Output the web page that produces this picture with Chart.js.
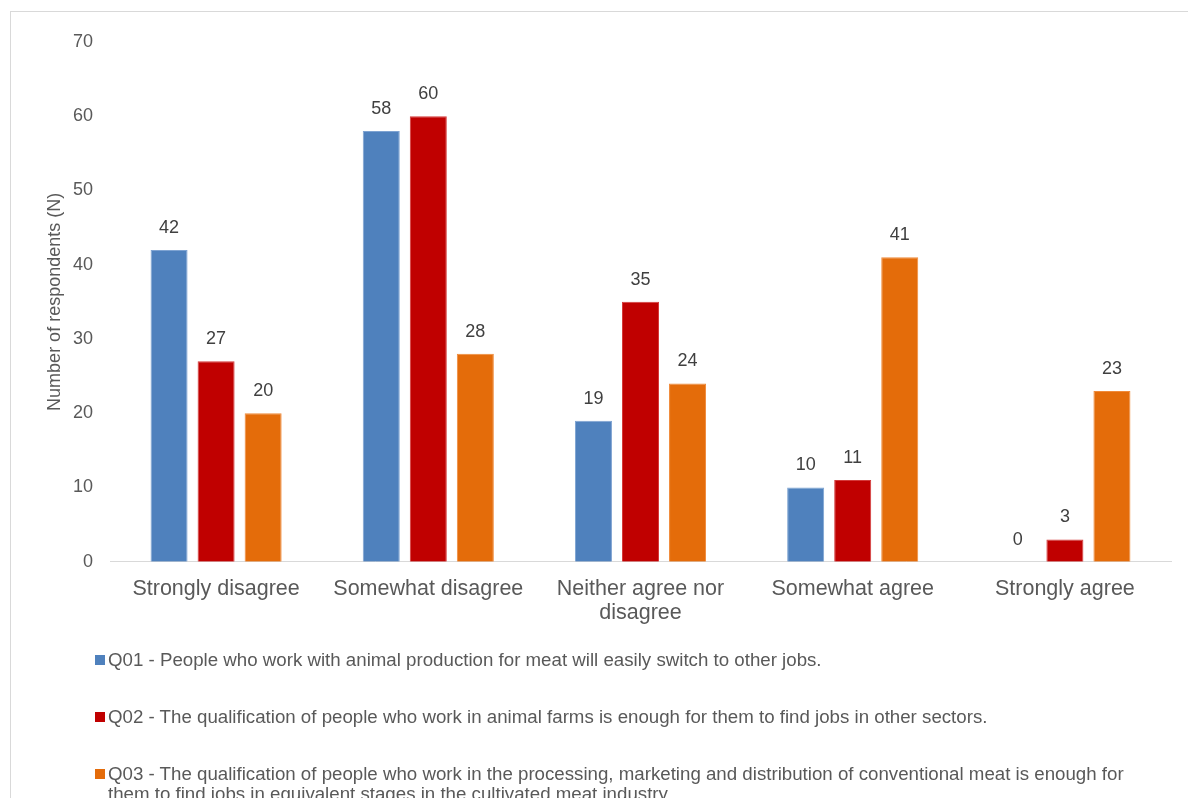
<!DOCTYPE html>
<html>
<head>
<meta charset="utf-8">
<script src="https://cdn.jsdelivr.net/npm/chart.js@4.4.1/dist/chart.umd.min.js"></script>
<style>
  body {
    margin: 0;
    background: #ffffff;
    overflow: hidden;
    font-family: "Liberation Sans", Arial, sans-serif;
  }
  #frame {
    position: absolute;
    left: 10px;
    top: 11px;
    width: 1300px;
    height: 900px;
    border: 1px solid #d9d9d9;
  }
  #chartBox {
    position: absolute;
    left: 0;
    top: 0;
    width: 1177px;
    height: 649px;
  }
  #legend {
    position: absolute;
    left: 84px;
    top: 638px;
    margin: 0;
    padding: 0;
    list-style: none;
  }
  #legend li {
    display: flex;
    align-items: flex-start;
    margin-bottom: 37px;
    font-size: 18.7px;
    line-height: 20px;
    color: #595959;
    white-space: nowrap;
  }
  .legend-box {
    display: inline-block;
    width: 10px;
    height: 10px;
    margin-top: 5px;
    flex: none;
  }
  .legend-text {
    margin-left: 3px;
  }
</style>
</head>
<body>
<div id="frame">
  <div id="chartBox"><canvas id="answers_bar"></canvas></div>
  <ul id="legend"></ul>
</div>
<script>
const categories = [
  "Strongly disagree",
  "Somewhat disagree",
  ["Neither agree nor", "disagree"],
  "Somewhat agree",
  "Strongly agree",
];

const q01Values = [42, 58, 19, 10, 0];
const q02Values = [27, 60, 35, 11, 3];
const q03Values = [20, 28, 24, 41, 23];

const q01Label = ["Q01 - People who work with animal production for meat will easily switch to other jobs."];
const q02Label = ["Q02 - The qualification of people who work in animal farms is enough for them to find jobs in other sectors."];
const q03Label = [
  "Q03 - The qualification of people who work in the processing, marketing and distribution of conventional meat is enough for",
  "them to find jobs in equivalent stages in the cultivated meat industry.",
];

const yMin = 0;
const yMax = 70;
const yStep = 10;

const FONT = "'Liberation Sans', Arial, sans-serif";

// numbers printed above each bar
const barValueLabels = {
  id: "barValueLabels",
  afterDatasetsDraw(chart) {
    const { ctx } = chart;
    ctx.save();
    ctx.font = "18px " + FONT;
    ctx.fillStyle = "#404040";
    ctx.textAlign = "center";
    ctx.textBaseline = "middle";
    chart.data.datasets.forEach((dataset, i) => {
      chart.getDatasetMeta(i).data.forEach((bar, j) => {
        ctx.fillText(dataset.data[j], bar.x, bar.y - 22);
      });
    });
    ctx.restore();
  },
};

// legend as a plain list under the canvas so the long texts can wrap
const htmlLegend = {
  id: "htmlLegend",
  afterUpdate(chart) {
    const list = document.getElementById("legend");
    list.innerHTML = "";
    chart.data.datasets.forEach((dataset) => {
      const li = document.createElement("li");
      const box = document.createElement("span");
      box.className = "legend-box";
      box.style.background = dataset.backgroundColor;
      const text = document.createElement("span");
      text.className = "legend-text";
      dataset.legendLines.forEach((line, k) => {
        if (k > 0) text.appendChild(document.createElement("br"));
        text.appendChild(document.createTextNode(line));
      });
      li.appendChild(box);
      li.appendChild(text);
      list.appendChild(li);
    });
  },
};

const makeDataset = (lines, values, color, edge) => ({
  label: lines.join(" "),
  legendLines: lines,
  data: values,
  backgroundColor: color,
  borderColor: edge,
  borderWidth: 1,
  categoryPercentage: 0.665,
  barPercentage: 0.787,
});

new Chart(document.getElementById("answers_bar"), {
  type: "bar",
  data: {
    labels: categories,
    datasets: [
      makeDataset(q01Label, q01Values, "#4f81bd", "#7ea3d2"),
      makeDataset(q02Label, q02Values, "#c00000", "#d43a3a"),
      makeDataset(q03Label, q03Values, "#e46c0a", "#f08a3a"),
    ],
  },
  plugins: [barValueLabels, htmlLegend],
  options: {
    responsive: true,
    maintainAspectRatio: false,
    animation: false,
    layout: {
      padding: { left: 30, right: 17, top: 30, bottom: 20 },
    },
    scales: {
      y: {
        min: yMin,
        max: yMax,
        afterFit: (scale) => {
          scale.width = 69;
        },
        ticks: {
          stepSize: yStep,
          padding: 17,
          color: "#595959",
          font: { family: FONT, size: 18 },
        },
        grid: {
          display: false,
          drawTicks: false,
        },
        border: { display: false },
        title: {
          display: true,
          text: "Number of respondents (N)",
          color: "#595959",
          font: { family: FONT, size: 18 },
          padding: 3,
        },
      },
      x: {
        ticks: {
          padding: 16,
          maxRotation: 0,
          autoSkip: false,
          color: "#595959",
          font: { family: FONT, size: 21.5, lineHeight: 1.1 },
        },
        grid: {
          display: false,
          drawTicks: false,
        },
        border: {
          display: true,
          color: "#d9d9d9",
          width: 1,
        },
      },
    },
    plugins: {
      legend: { display: false },
      tooltip: { enabled: false },
    },
  },
});
</script>
</body>
</html>
